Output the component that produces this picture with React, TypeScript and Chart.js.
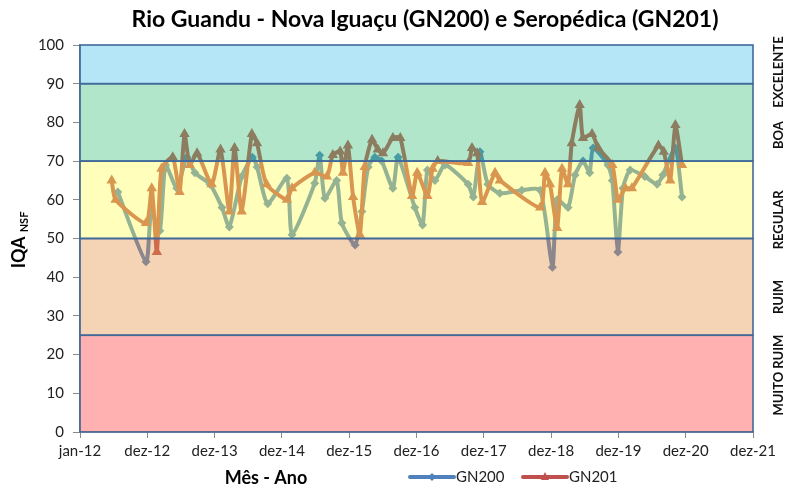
import React, { useEffect, useRef } from "react";
import { Chart, registerables } from "chart.js";

Chart.register(...registerables);

const TITLE = "Rio Guandu - Nova Iguaçu (GN200) e Seropédica (GN201)";
const tickLabels = ["jan-12", "dez-12", "dez-13", "dez-14", "dez-15", "dez-16", "dez-17", "dez-18", "dez-19", "dez-20", "dez-21"];

const gn200Dates = [
  "2012-07-24", "2012-12-24", "2013-01-21", "2013-03-09", "2013-04-09", "2013-06-09", "2013-08-03", "2013-09-15",
  "2013-12-06", "2014-02-09", "2014-03-21", "2014-05-27", "2014-07-24", "2014-08-18", "2014-10-15", "2015-01-27",
  "2015-02-24", "2015-06-27", "2015-07-24", "2015-08-21", "2015-10-24", "2015-11-21", "2016-02-01", "2016-03-09",
  "2016-04-12", "2016-05-18", "2016-06-24", "2016-08-24", "2016-09-21", "2016-12-21", "2017-02-01", "2017-02-27",
  "2017-04-09", "2017-06-03", "2017-10-06", "2017-11-03", "2017-12-09", "2018-01-21", "2018-03-27", "2018-07-24",
  "2018-11-01", "2019-01-06", "2019-02-01", "2019-04-01", "2019-05-09", "2019-06-21", "2019-07-27", "2019-08-15",
  "2019-11-03", "2019-11-27", "2019-12-27", "2020-01-24", "2020-03-03", "2020-05-21", "2020-07-27", "2020-08-27",
  "2020-11-03", "2020-12-09",
];
const gn200Values = [
  62, 44, 57, 52, 69, 63, 71, 67,
  64, 58, 53, 66, 71, 68.5, 59, 65.6,
  51, 64.3, 71.5, 60.4, 65, 54, 48.3, 57,
  68.5, 71, 70, 63, 71, 58, 53.5, 67.7,
  65, 69, 64, 60.7, 72.4, 64, 61.7, 62.5,
  62.5, 42.6, 60, 58, 66.4, 70, 67, 73.4,
  69, 65, 46.5, 63, 67.7, 66, 64, 66.4,
  73.4, 60.7,
];

const gn201Dates = [
  "2012-06-21", "2012-07-12", "2012-12-24", "2013-01-24", "2013-02-21", "2013-03-18", "2013-05-18", "2013-06-24",
  "2013-07-21", "2013-08-18", "2013-09-27", "2013-12-15", "2014-02-01", "2014-03-21", "2014-04-18", "2014-05-27",
  "2014-07-21", "2014-08-18", "2014-10-09", "2015-01-27", "2015-02-24", "2015-06-27", "2015-09-01", "2015-10-03",
  "2015-11-12", "2015-11-27", "2015-12-24", "2016-01-21", "2016-02-27", "2016-03-24", "2016-05-03", "2016-06-03",
  "2016-07-01", "2016-08-24", "2016-10-03", "2016-12-06", "2017-01-03", "2017-02-27", "2017-03-27", "2017-04-24",
  "2017-10-06", "2017-10-27", "2017-11-24", "2017-12-21", "2018-03-01", "2018-03-27", "2018-11-01", "2018-11-27",
  "2018-12-24", "2019-02-01", "2019-02-27", "2019-04-01", "2019-04-21", "2019-06-03", "2019-06-21", "2019-08-09",
  "2019-09-12", "2019-11-27", "2019-12-27", "2020-02-06", "2020-03-12", "2020-08-03", "2020-09-01", "2020-10-06",
  "2020-11-03", "2020-12-09",
];
const gn201Values = [
  65, 60, 54, 63, 46.5, 68, 71, 62,
  77, 69, 72, 64, 73, 57, 73.4, 57,
  77, 74.6, 64, 60, 63, 67, 66, 71.6,
  72.5, 67, 74, 60.7, 51, 68.5, 75.5, 73,
  72, 76, 76, 61, 67, 61, 68, 70,
  69.5, 73.4, 72, 59.4, 67, 65, 58, 67,
  64, 52.7, 68, 64, 74.6, 84.5, 76, 77,
  73.4, 69, 60, 63, 63, 74, 72.4, 65,
  79.3, 69,
];

const bandLimits = [0, 25, 50, 70, 90, 100];
const bandNames = ["MUITO RUIM", "RUIM", "REGULAR", "BOA", "EXCELENTE"];
const bandLabelAt = [14.7, 34.9, 54.8, 76.7, 93];
const bandColors = [
  "rgba(255,60,60,0.4)",
  "rgba(230,145,70,0.4)",
  "rgba(255,255,85,0.4)",
  "rgba(62,192,125,0.4)",
  "rgba(68,192,238,0.4)",
];

const FONT = "Lato, 'Liberation Sans', sans-serif";

function dayOffset(s: string): number {
  const [y, m, d] = s.split("-").map(Number);
  return (Date.UTC(y, m - 1, d) - Date.UTC(2012, 0, 1)) / 86400000;
}

function toPoints(dates: string[], values: number[]) {
  return dates.map((d, i) => ({ x: dayOffset(d), y: values[i] }));
}

const overlayPlugin = {
  id: "overlay",
  beforeDraw(chart: any) {
    const ctx = chart.ctx;
    ctx.save();
    ctx.fillStyle = "#ffffff";
    ctx.fillRect(0, 0, chart.width, chart.height);
    ctx.restore();
  },
  afterDatasetsDraw(chart: any) {
    const ctx = chart.ctx;
    const { left, right } = chart.chartArea;
    const ys = chart.scales.y;
    ctx.save();
    for (let i = 0; i < bandNames.length; i++) {
      const yTop = ys.getPixelForValue(bandLimits[i + 1]);
      const yBot = ys.getPixelForValue(bandLimits[i]);
      ctx.fillStyle = bandColors[i];
      ctx.fillRect(left, yTop, right - left, yBot - yTop);
    }
    ctx.strokeStyle = "#41699a";
    ctx.lineWidth = 1.6;
    for (let i = 0; i < bandNames.length; i++) {
      const yTop = ys.getPixelForValue(bandLimits[i + 1]);
      const yBot = ys.getPixelForValue(bandLimits[i]);
      ctx.strokeRect(left, yTop, right - left, yBot - yTop);
    }
    ctx.restore();
  },
  afterDraw(chart: any) {
    const ctx = chart.ctx;
    const ys = chart.scales.y;
    ctx.save();
    // title
    ctx.fillStyle = "#000000";
    ctx.font = `bold 23px ${FONT}`;
    ctx.textAlign = "center";
    ctx.textBaseline = "middle";
    ctx.fillText(TITLE, 425, 20);

    // band labels
    ctx.font = `bold 13px ${FONT}`;
    ctx.fillStyle = "#111111";
    for (let i = 0; i < bandNames.length; i++) {
      ctx.save();
      ctx.translate(779, ys.getPixelForValue(bandLabelAt[i]));
      ctx.rotate(-Math.PI / 2);
      ctx.textAlign = "center";
      ctx.textBaseline = "middle";
      ctx.fillText(bandNames[i], 0, 0);
      ctx.restore();
    }

    // y axis title
    ctx.save();
    ctx.translate(19, 240);
    ctx.rotate(-Math.PI / 2);
    ctx.font = `bold 18px ${FONT}`;
    const w1 = ctx.measureText("IQA").width;
    ctx.font = `bold 11px ${FONT}`;
    const w2 = ctx.measureText("NSF").width;
    const total = w1 + 4 + w2;
    ctx.textAlign = "left";
    ctx.textBaseline = "middle";
    ctx.font = `bold 18px ${FONT}`;
    ctx.fillStyle = "#000000";
    ctx.fillText("IQA", -total / 2, 0);
    ctx.font = `bold 11px ${FONT}`;
    ctx.fillText("NSF", -total / 2 + w1 + 4, 5);
    ctx.restore();

    // x axis title
    ctx.font = `bold 18px ${FONT}`;
    ctx.fillStyle = "#000000";
    ctx.textAlign = "center";
    ctx.textBaseline = "middle";
    ctx.fillText("Mês - Ano", 266, 478);

    // legend
    const items = [
      { label: "GN200", color: "#4f81bd", style: "diamond", x: 410 },
      { label: "GN201", color: "#c0504d", style: "triangle", x: 523 },
    ];
    const ly = 477;
    items.forEach((it) => {
      ctx.strokeStyle = it.color;
      ctx.lineWidth = 4;
      ctx.lineCap = "round";
      ctx.beginPath();
      ctx.moveTo(it.x, ly);
      ctx.lineTo(it.x + 44, ly);
      ctx.stroke();
      ctx.fillStyle = it.color;
      const cx = it.x + 22;
      ctx.beginPath();
      if (it.style === "diamond") {
        ctx.moveTo(cx, ly - 4);
        ctx.lineTo(cx + 4, ly);
        ctx.lineTo(cx, ly + 4);
        ctx.lineTo(cx - 4, ly);
      } else {
        ctx.moveTo(cx, ly - 5);
        ctx.lineTo(cx + 4, ly + 3);
        ctx.lineTo(cx - 4, ly + 3);
      }
      ctx.closePath();
      ctx.fill();
      ctx.font = `15px ${FONT}`;
      ctx.fillStyle = "#222222";
      ctx.textAlign = "left";
      ctx.textBaseline = "middle";
      ctx.fillText(it.label, it.x + 46, ly);
    });
    ctx.restore();
  },
};

export default function App() {
  const canvasRef = useRef<HTMLCanvasElement | null>(null);

  useEffect(() => {
    document.body.style.margin = "0";
    const canvas = canvasRef.current;
    if (!canvas) return;
    const chart = new Chart(canvas, {
      type: "line",
      data: {
        datasets: [
          {
            label: "GN200",
            data: toPoints(gn200Dates, gn200Values),
            borderColor: "#4f81bd",
            backgroundColor: "#4f81bd",
            borderWidth: 4,
            pointStyle: "rectRot",
            pointRadius: 4.5,
            pointBorderWidth: 0,
            tension: 0.2,
            order: 2,
          },
          {
            label: "GN201",
            data: toPoints(gn201Dates, gn201Values),
            borderColor: "#c0504d",
            backgroundColor: "#c0504d",
            borderWidth: 4,
            pointStyle: "triangle",
            pointRadius: 6,
            pointBorderWidth: 0,
            tension: 0.2,
            order: 1,
          },
        ],
      },
      options: {
        responsive: false,
        animation: false,
        devicePixelRatio: 1,
        layout: { padding: { top: 45, right: 35, left: 0, bottom: 0 } },
        plugins: {
          legend: { display: false },
          title: { display: false },
          tooltip: { enabled: false },
        },
        scales: {
          x: {
            type: "linear",
            min: 0,
            max: 3650,
            afterBuildTicks: (axis: any) => {
              axis.ticks = tickLabels.map((_, i) => ({ value: i * 365 }));
            },
            afterFit: (axis: any) => {
              axis.height = 57;
            },
            ticks: {
              autoSkip: false,
              maxRotation: 0,
              padding: 4,
              color: "#222222",
              font: { family: FONT, size: 15 },
              callback: (_v: any, i: number) => tickLabels[i],
            },
            grid: {
              display: true,
              drawOnChartArea: false,
              drawTicks: true,
              tickLength: 6,
              color: "#8a8a8a",
            },
            border: { display: true, color: "#8a8a8a", width: 1.5 },
          },
          y: {
            min: 0,
            max: 100,
            afterFit: (axis: any) => {
              axis.width = 80;
            },
            ticks: {
              stepSize: 10,
              padding: 9,
              color: "#222222",
              font: { family: FONT, size: 15 },
            },
            grid: {
              display: true,
              drawOnChartArea: false,
              drawTicks: true,
              tickLength: 7,
              color: "#8a8a8a",
            },
            border: { display: true, color: "#8a8a8a", width: 1.5 },
          },
        },
      },
      plugins: [overlayPlugin],
    } as any);
    return () => chart.destroy();
  }, []);

  return <canvas ref={canvasRef} width={788} height={489} style={{ display: "block" }} />;
}
